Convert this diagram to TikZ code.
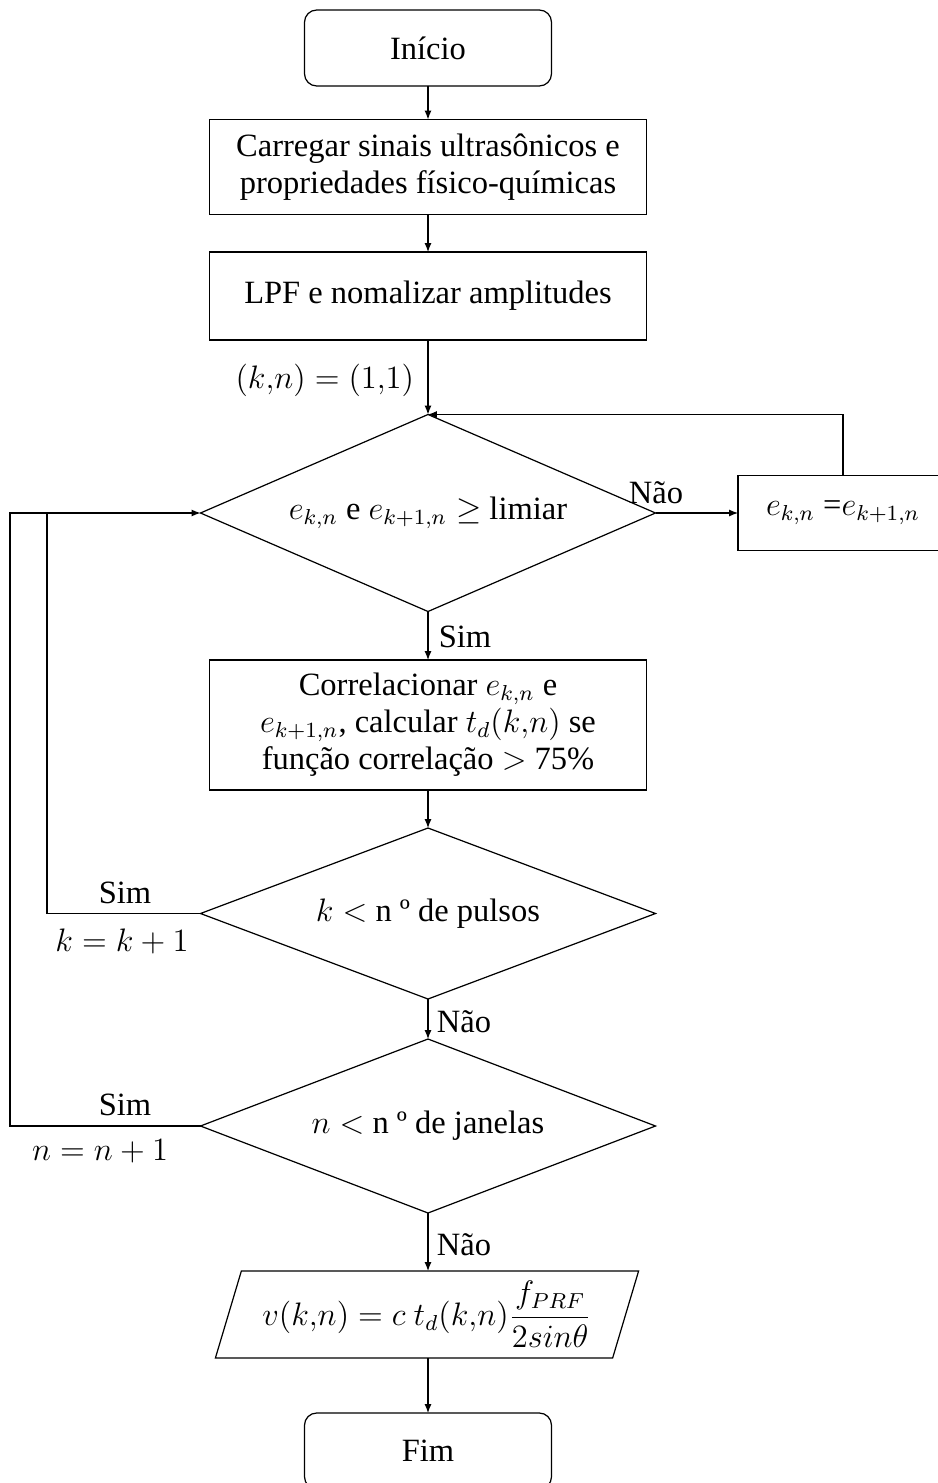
\documentclass[tikz,border=0pt]{standalone}
\usepackage[no-math]{fontspec}
\setmainfont{Liberation Serif}
\usetikzlibrary{shapes.geometric,arrows.meta}
\newcommand\pxs{0.3692pt}
\begin{document}
\begin{tikzpicture}[x=0.3692pt,y=-0.3692pt,
  font=\fontsize{12}{13.7}\selectfont,
  every node/.style={inner sep=0pt, outer sep=0pt},
  conn/.style={draw, line width=0.45pt},
  arr/.style={conn, -{Latex[length=3.3pt,width=2.6pt]}},
  term/.style={draw, line width=0.45pt, rectangle, rounded corners=4.5pt,
    minimum width=247*\pxs, minimum height=76*\pxs},
  proc/.style={draw, line width=0.45pt, rectangle, align=center,
    minimum width=437*\pxs},
  dec/.style={draw, line width=0.45pt, diamond, shape aspect=2.3,
    minimum width=455*\pxs},
  io/.style={draw, line width=0.45pt, trapezium, trapezium left angle=71,
    trapezium right angle=109, trapezium stretches=true,
    minimum width=424*\pxs, minimum height=87*\pxs}
]
\useasboundingbox (0,0) rectangle (937,1483);

% main column
\node[term] (start) at (428,48) {Início};
\node[proc, minimum height=95*\pxs] (load) at (428,167)
  {Carregar sinais ultrasônicos e\\propriedades físico-químicas};
\node[proc, minimum height=88*\pxs] (lpf) at (428,296)
  {LPF e nomalizar amplitudes};
\node[dec, minimum height=197*\pxs] (d1) at (428,513)
  {$e_{k,n}$ e $e_{k+1,n} \geq$ limiar};
\node[draw, line width=0.45pt, rectangle, minimum width=210*\pxs,
  minimum height=75*\pxs] (upd) at (843,513) {$e_{k,n}$ =$e_{k+1,n}$};
\node[proc, minimum height=130*\pxs] (corr) at (428,725)
  {Correlacionar $e_{k,n}$ e\\$e_{k+1,n}$, calcular $t_d(k{,}n)$ se\\função correlação $>$ 75\%};
\node[dec, minimum height=171*\pxs] (d2) at (428,913.5)
  {$k <$ n º de pulsos};
\node[dec, minimum height=174*\pxs] (d3) at (428,1126)
  {$n <$ n º de janelas};
\node[io] (out) at (427,1314.5)
  {$v(k{,}n) = c\ t_d(k{,}n){\displaystyle\frac{f_{PRF}}{2sin\theta}}$};
\node[term] (stop) at (428,1451) {Fim};

% labels
\node[anchor=east] (init) at (414,380) {$(k{,}n) = (1{,}1)$};
\node (no1) at (656,493) {Não};
\node (yes1) at (465,637) {Sim};
\node (yes2) at (125,893) {Sim};
\node (inck) at (122,941) {$k = k + 1$};
\node (no2) at (464,1022) {Não};
\node (yes3) at (125,1105) {Sim};
\node (incn) at (100,1151) {$n = n + 1$};
\node (no3) at (464,1245) {Não};

% connectors
\coordinate (kturn) at (47,913.5);
\coordinate (kjoin) at (47,513);
\coordinate (nturn) at (10,1126);
\coordinate (njoin) at (10,513);

\draw[arr] (start) -- (load);
\draw[arr] (load) -- (lpf);
\draw[arr] (lpf) -- (d1);
\draw[arr] (d1.east) -- (upd.west);
\draw[arr] (upd.north) |- (d1.north);
\draw[arr] (d1.south) -- (corr.north);
\draw[arr] (corr) -- (d2.north);
\draw[arr] (d2.west) -- (kturn) -- (kjoin) -- (d1.west);
\draw[conn] (d3.west) -- (nturn) -- (njoin) -- (kjoin);
\draw[arr] (d2.south) -- (d3.north);
\draw[arr] (d3.south) -- (d3.south |- out.north);
\draw[arr] (out.south -| stop.north) -- (stop.north);
\end{tikzpicture}
\end{document}
